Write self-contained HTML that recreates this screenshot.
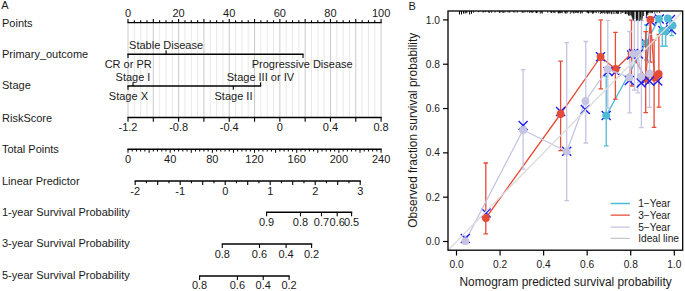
<!DOCTYPE html>
<html><head><meta charset="utf-8"><style>
html,body{margin:0;padding:0;background:#fff;}
body{width:685px;height:291px;overflow:hidden;font-family:"Liberation Sans", sans-serif;}
svg{display:block;}
</style></head><body>
<svg width="685" height="291" viewBox="0 0 685 291" font-family='"Liberation Sans", sans-serif' fill="#1a1a1a"><text x="1.2" y="9.2" font-size="11">A</text>
<text x="2" y="27.1" font-size="11">Points</text>
<text x="2" y="57.5" font-size="11">Primary_outcome</text>
<text x="2" y="88.8" font-size="11">Stage</text>
<text x="2" y="121.6" font-size="11">RiskScore</text>
<text x="2" y="153.2" font-size="11">Total Points</text>
<text x="2" y="184.8" font-size="11">Linear Predictor</text>
<text x="2" y="215.5" font-size="11">1-year Survival Probability</text>
<text x="2" y="247.1" font-size="11">3-year Survival Probability</text>
<text x="2" y="278.6" font-size="11">5-year Survival Probability</text>
<line x1="128.00" y1="22.8" x2="128.00" y2="117.5" stroke="#c4c4c4" stroke-width="0.9"/><line x1="134.33" y1="22.8" x2="134.33" y2="117.5" stroke="#e6e6e6" stroke-width="0.9"/><line x1="140.66" y1="22.8" x2="140.66" y2="117.5" stroke="#e6e6e6" stroke-width="0.9"/><line x1="146.98" y1="22.8" x2="146.98" y2="117.5" stroke="#e6e6e6" stroke-width="0.9"/><line x1="153.31" y1="22.8" x2="153.31" y2="117.5" stroke="#c4c4c4" stroke-width="0.9"/><line x1="159.64" y1="22.8" x2="159.64" y2="117.5" stroke="#e6e6e6" stroke-width="0.9"/><line x1="165.97" y1="22.8" x2="165.97" y2="117.5" stroke="#e6e6e6" stroke-width="0.9"/><line x1="172.29" y1="22.8" x2="172.29" y2="117.5" stroke="#e6e6e6" stroke-width="0.9"/><line x1="178.62" y1="22.8" x2="178.62" y2="117.5" stroke="#c4c4c4" stroke-width="0.9"/><line x1="184.95" y1="22.8" x2="184.95" y2="117.5" stroke="#e6e6e6" stroke-width="0.9"/><line x1="191.28" y1="22.8" x2="191.28" y2="117.5" stroke="#e6e6e6" stroke-width="0.9"/><line x1="197.60" y1="22.8" x2="197.60" y2="117.5" stroke="#e6e6e6" stroke-width="0.9"/><line x1="203.93" y1="22.8" x2="203.93" y2="117.5" stroke="#c4c4c4" stroke-width="0.9"/><line x1="210.26" y1="22.8" x2="210.26" y2="117.5" stroke="#e6e6e6" stroke-width="0.9"/><line x1="216.59" y1="22.8" x2="216.59" y2="117.5" stroke="#e6e6e6" stroke-width="0.9"/><line x1="222.91" y1="22.8" x2="222.91" y2="117.5" stroke="#e6e6e6" stroke-width="0.9"/><line x1="229.24" y1="22.8" x2="229.24" y2="117.5" stroke="#c4c4c4" stroke-width="0.9"/><line x1="235.57" y1="22.8" x2="235.57" y2="117.5" stroke="#e6e6e6" stroke-width="0.9"/><line x1="241.90" y1="22.8" x2="241.90" y2="117.5" stroke="#e6e6e6" stroke-width="0.9"/><line x1="248.22" y1="22.8" x2="248.22" y2="117.5" stroke="#e6e6e6" stroke-width="0.9"/><line x1="254.55" y1="22.8" x2="254.55" y2="117.5" stroke="#c4c4c4" stroke-width="0.9"/><line x1="260.88" y1="22.8" x2="260.88" y2="117.5" stroke="#e6e6e6" stroke-width="0.9"/><line x1="267.21" y1="22.8" x2="267.21" y2="117.5" stroke="#e6e6e6" stroke-width="0.9"/><line x1="273.53" y1="22.8" x2="273.53" y2="117.5" stroke="#e6e6e6" stroke-width="0.9"/><line x1="279.86" y1="22.8" x2="279.86" y2="117.5" stroke="#c4c4c4" stroke-width="0.9"/><line x1="286.19" y1="22.8" x2="286.19" y2="117.5" stroke="#e6e6e6" stroke-width="0.9"/><line x1="292.51" y1="22.8" x2="292.51" y2="117.5" stroke="#e6e6e6" stroke-width="0.9"/><line x1="298.84" y1="22.8" x2="298.84" y2="117.5" stroke="#e6e6e6" stroke-width="0.9"/><line x1="305.17" y1="22.8" x2="305.17" y2="117.5" stroke="#c4c4c4" stroke-width="0.9"/><line x1="311.50" y1="22.8" x2="311.50" y2="117.5" stroke="#e6e6e6" stroke-width="0.9"/><line x1="317.83" y1="22.8" x2="317.83" y2="117.5" stroke="#e6e6e6" stroke-width="0.9"/><line x1="324.15" y1="22.8" x2="324.15" y2="117.5" stroke="#e6e6e6" stroke-width="0.9"/><line x1="330.48" y1="22.8" x2="330.48" y2="117.5" stroke="#c4c4c4" stroke-width="0.9"/><line x1="336.81" y1="22.8" x2="336.81" y2="117.5" stroke="#e6e6e6" stroke-width="0.9"/><line x1="343.13" y1="22.8" x2="343.13" y2="117.5" stroke="#e6e6e6" stroke-width="0.9"/><line x1="349.46" y1="22.8" x2="349.46" y2="117.5" stroke="#e6e6e6" stroke-width="0.9"/><line x1="355.79" y1="22.8" x2="355.79" y2="117.5" stroke="#c4c4c4" stroke-width="0.9"/><line x1="362.12" y1="22.8" x2="362.12" y2="117.5" stroke="#e6e6e6" stroke-width="0.9"/><line x1="368.45" y1="22.8" x2="368.45" y2="117.5" stroke="#e6e6e6" stroke-width="0.9"/><line x1="374.77" y1="22.8" x2="374.77" y2="117.5" stroke="#e6e6e6" stroke-width="0.9"/><line x1="381.10" y1="22.8" x2="381.10" y2="117.5" stroke="#c4c4c4" stroke-width="0.9"/>
<line x1="127.40" y1="22.6" x2="381.70" y2="22.6" stroke="#000" stroke-width="1.45"/>
<line x1="128.00" y1="22.6" x2="128.00" y2="18.9" stroke="#000" stroke-width="1.1"/>
<line x1="134.33" y1="22.6" x2="134.33" y2="20.3" stroke="#000" stroke-width="1.1"/>
<line x1="140.66" y1="22.6" x2="140.66" y2="20.3" stroke="#000" stroke-width="1.1"/>
<line x1="146.98" y1="22.6" x2="146.98" y2="20.3" stroke="#000" stroke-width="1.1"/>
<line x1="153.31" y1="22.6" x2="153.31" y2="18.9" stroke="#000" stroke-width="1.1"/>
<line x1="159.64" y1="22.6" x2="159.64" y2="20.3" stroke="#000" stroke-width="1.1"/>
<line x1="165.97" y1="22.6" x2="165.97" y2="20.3" stroke="#000" stroke-width="1.1"/>
<line x1="172.29" y1="22.6" x2="172.29" y2="20.3" stroke="#000" stroke-width="1.1"/>
<line x1="178.62" y1="22.6" x2="178.62" y2="18.9" stroke="#000" stroke-width="1.1"/>
<line x1="184.95" y1="22.6" x2="184.95" y2="20.3" stroke="#000" stroke-width="1.1"/>
<line x1="191.28" y1="22.6" x2="191.28" y2="20.3" stroke="#000" stroke-width="1.1"/>
<line x1="197.60" y1="22.6" x2="197.60" y2="20.3" stroke="#000" stroke-width="1.1"/>
<line x1="203.93" y1="22.6" x2="203.93" y2="18.9" stroke="#000" stroke-width="1.1"/>
<line x1="210.26" y1="22.6" x2="210.26" y2="20.3" stroke="#000" stroke-width="1.1"/>
<line x1="216.59" y1="22.6" x2="216.59" y2="20.3" stroke="#000" stroke-width="1.1"/>
<line x1="222.91" y1="22.6" x2="222.91" y2="20.3" stroke="#000" stroke-width="1.1"/>
<line x1="229.24" y1="22.6" x2="229.24" y2="18.9" stroke="#000" stroke-width="1.1"/>
<line x1="235.57" y1="22.6" x2="235.57" y2="20.3" stroke="#000" stroke-width="1.1"/>
<line x1="241.90" y1="22.6" x2="241.90" y2="20.3" stroke="#000" stroke-width="1.1"/>
<line x1="248.22" y1="22.6" x2="248.22" y2="20.3" stroke="#000" stroke-width="1.1"/>
<line x1="254.55" y1="22.6" x2="254.55" y2="18.9" stroke="#000" stroke-width="1.1"/>
<line x1="260.88" y1="22.6" x2="260.88" y2="20.3" stroke="#000" stroke-width="1.1"/>
<line x1="267.21" y1="22.6" x2="267.21" y2="20.3" stroke="#000" stroke-width="1.1"/>
<line x1="273.53" y1="22.6" x2="273.53" y2="20.3" stroke="#000" stroke-width="1.1"/>
<line x1="279.86" y1="22.6" x2="279.86" y2="18.9" stroke="#000" stroke-width="1.1"/>
<line x1="286.19" y1="22.6" x2="286.19" y2="20.3" stroke="#000" stroke-width="1.1"/>
<line x1="292.51" y1="22.6" x2="292.51" y2="20.3" stroke="#000" stroke-width="1.1"/>
<line x1="298.84" y1="22.6" x2="298.84" y2="20.3" stroke="#000" stroke-width="1.1"/>
<line x1="305.17" y1="22.6" x2="305.17" y2="18.9" stroke="#000" stroke-width="1.1"/>
<line x1="311.50" y1="22.6" x2="311.50" y2="20.3" stroke="#000" stroke-width="1.1"/>
<line x1="317.83" y1="22.6" x2="317.83" y2="20.3" stroke="#000" stroke-width="1.1"/>
<line x1="324.15" y1="22.6" x2="324.15" y2="20.3" stroke="#000" stroke-width="1.1"/>
<line x1="330.48" y1="22.6" x2="330.48" y2="18.9" stroke="#000" stroke-width="1.1"/>
<line x1="336.81" y1="22.6" x2="336.81" y2="20.3" stroke="#000" stroke-width="1.1"/>
<line x1="343.13" y1="22.6" x2="343.13" y2="20.3" stroke="#000" stroke-width="1.1"/>
<line x1="349.46" y1="22.6" x2="349.46" y2="20.3" stroke="#000" stroke-width="1.1"/>
<line x1="355.79" y1="22.6" x2="355.79" y2="18.9" stroke="#000" stroke-width="1.1"/>
<line x1="362.12" y1="22.6" x2="362.12" y2="20.3" stroke="#000" stroke-width="1.1"/>
<line x1="368.45" y1="22.6" x2="368.45" y2="20.3" stroke="#000" stroke-width="1.1"/>
<line x1="374.77" y1="22.6" x2="374.77" y2="20.3" stroke="#000" stroke-width="1.1"/>
<line x1="381.10" y1="22.6" x2="381.10" y2="18.9" stroke="#000" stroke-width="1.1"/>
<text x="128.00" y="16.8" font-size="11" text-anchor="middle">0</text>
<text x="178.62" y="16.8" font-size="11" text-anchor="middle">20</text>
<text x="229.24" y="16.8" font-size="11" text-anchor="middle">40</text>
<text x="279.86" y="16.8" font-size="11" text-anchor="middle">60</text>
<text x="330.48" y="16.8" font-size="11" text-anchor="middle">80</text>
<text x="381.10" y="16.8" font-size="11" text-anchor="middle">100</text>
<line x1="127.4" y1="54.2" x2="303.6" y2="54.2" stroke="#000" stroke-width="1.45"/>
<line x1="128" y1="54.2" x2="128" y2="58.0" stroke="#000" stroke-width="1.1"/>
<line x1="166.1" y1="54.2" x2="166.1" y2="50.400000000000006" stroke="#000" stroke-width="1.1"/>
<line x1="303" y1="54.2" x2="303" y2="58.0" stroke="#000" stroke-width="1.1"/>
<text x="166.1" y="48.9" font-size="11" text-anchor="middle">Stable Disease</text>
<text x="128.2" y="68.0" font-size="11" text-anchor="middle">CR or PR</text>
<text x="302.2" y="67.6" font-size="11" text-anchor="middle">Progressive Disease</text>
<line x1="127.4" y1="86.0" x2="261.2" y2="86.0" stroke="#000" stroke-width="1.45"/>
<line x1="128" y1="86.0" x2="128" y2="89.8" stroke="#000" stroke-width="1.1"/>
<line x1="133" y1="86.0" x2="133" y2="82.2" stroke="#000" stroke-width="1.1"/>
<line x1="233.3" y1="86.0" x2="233.3" y2="89.8" stroke="#000" stroke-width="1.1"/>
<line x1="260.6" y1="86.0" x2="260.6" y2="82.2" stroke="#000" stroke-width="1.1"/>
<text x="133" y="80.5" font-size="11" text-anchor="middle">Stage I</text>
<text x="260.4" y="80.5" font-size="11" text-anchor="middle">Stage III or IV</text>
<text x="128.4" y="100.2" font-size="11" text-anchor="middle">Stage X</text>
<text x="233.5" y="99.8" font-size="11" text-anchor="middle">Stage II</text>
<line x1="127.4" y1="117.5" x2="381.7" y2="117.5" stroke="#000" stroke-width="1.45"/>
<line x1="128.00" y1="117.5" x2="128.00" y2="121.7" stroke="#000" stroke-width="1.1"/>
<line x1="153.31" y1="117.5" x2="153.31" y2="121.7" stroke="#000" stroke-width="1.1"/>
<line x1="178.62" y1="117.5" x2="178.62" y2="121.7" stroke="#000" stroke-width="1.1"/>
<line x1="203.93" y1="117.5" x2="203.93" y2="121.7" stroke="#000" stroke-width="1.1"/>
<line x1="229.24" y1="117.5" x2="229.24" y2="121.7" stroke="#000" stroke-width="1.1"/>
<line x1="254.55" y1="117.5" x2="254.55" y2="121.7" stroke="#000" stroke-width="1.1"/>
<line x1="279.86" y1="117.5" x2="279.86" y2="121.7" stroke="#000" stroke-width="1.1"/>
<line x1="305.17" y1="117.5" x2="305.17" y2="121.7" stroke="#000" stroke-width="1.1"/>
<line x1="330.48" y1="117.5" x2="330.48" y2="121.7" stroke="#000" stroke-width="1.1"/>
<line x1="355.79" y1="117.5" x2="355.79" y2="121.7" stroke="#000" stroke-width="1.1"/>
<line x1="381.10" y1="117.5" x2="381.10" y2="121.7" stroke="#000" stroke-width="1.1"/>
<text x="128.00" y="130.8" font-size="11" text-anchor="middle">-1.2</text>
<text x="178.62" y="130.8" font-size="11" text-anchor="middle">-0.8</text>
<text x="229.24" y="130.8" font-size="11" text-anchor="middle">-0.4</text>
<text x="279.86" y="130.8" font-size="11" text-anchor="middle">0</text>
<text x="330.48" y="130.8" font-size="11" text-anchor="middle">0.4</text>
<text x="381.10" y="130.8" font-size="11" text-anchor="middle">0.8</text>
<line x1="127.4" y1="149.2" x2="381.7" y2="149.2" stroke="#000" stroke-width="1.45"/>
<line x1="128.00" y1="149.2" x2="128.00" y2="152.79999999999998" stroke="#000" stroke-width="1.0"/>
<line x1="132.22" y1="149.2" x2="132.22" y2="151.5" stroke="#000" stroke-width="1.0"/>
<line x1="136.44" y1="149.2" x2="136.44" y2="151.5" stroke="#000" stroke-width="1.0"/>
<line x1="140.66" y1="149.2" x2="140.66" y2="151.5" stroke="#000" stroke-width="1.0"/>
<line x1="144.87" y1="149.2" x2="144.87" y2="151.5" stroke="#000" stroke-width="1.0"/>
<line x1="149.09" y1="149.2" x2="149.09" y2="152.79999999999998" stroke="#000" stroke-width="1.0"/>
<line x1="153.31" y1="149.2" x2="153.31" y2="151.5" stroke="#000" stroke-width="1.0"/>
<line x1="157.53" y1="149.2" x2="157.53" y2="151.5" stroke="#000" stroke-width="1.0"/>
<line x1="161.75" y1="149.2" x2="161.75" y2="151.5" stroke="#000" stroke-width="1.0"/>
<line x1="165.97" y1="149.2" x2="165.97" y2="151.5" stroke="#000" stroke-width="1.0"/>
<line x1="170.18" y1="149.2" x2="170.18" y2="152.79999999999998" stroke="#000" stroke-width="1.0"/>
<line x1="174.40" y1="149.2" x2="174.40" y2="151.5" stroke="#000" stroke-width="1.0"/>
<line x1="178.62" y1="149.2" x2="178.62" y2="151.5" stroke="#000" stroke-width="1.0"/>
<line x1="182.84" y1="149.2" x2="182.84" y2="151.5" stroke="#000" stroke-width="1.0"/>
<line x1="187.06" y1="149.2" x2="187.06" y2="151.5" stroke="#000" stroke-width="1.0"/>
<line x1="191.28" y1="149.2" x2="191.28" y2="152.79999999999998" stroke="#000" stroke-width="1.0"/>
<line x1="195.49" y1="149.2" x2="195.49" y2="151.5" stroke="#000" stroke-width="1.0"/>
<line x1="199.71" y1="149.2" x2="199.71" y2="151.5" stroke="#000" stroke-width="1.0"/>
<line x1="203.93" y1="149.2" x2="203.93" y2="151.5" stroke="#000" stroke-width="1.0"/>
<line x1="208.15" y1="149.2" x2="208.15" y2="151.5" stroke="#000" stroke-width="1.0"/>
<line x1="212.37" y1="149.2" x2="212.37" y2="152.79999999999998" stroke="#000" stroke-width="1.0"/>
<line x1="216.58" y1="149.2" x2="216.58" y2="151.5" stroke="#000" stroke-width="1.0"/>
<line x1="220.80" y1="149.2" x2="220.80" y2="151.5" stroke="#000" stroke-width="1.0"/>
<line x1="225.02" y1="149.2" x2="225.02" y2="151.5" stroke="#000" stroke-width="1.0"/>
<line x1="229.24" y1="149.2" x2="229.24" y2="151.5" stroke="#000" stroke-width="1.0"/>
<line x1="233.46" y1="149.2" x2="233.46" y2="152.79999999999998" stroke="#000" stroke-width="1.0"/>
<line x1="237.68" y1="149.2" x2="237.68" y2="151.5" stroke="#000" stroke-width="1.0"/>
<line x1="241.89" y1="149.2" x2="241.89" y2="151.5" stroke="#000" stroke-width="1.0"/>
<line x1="246.11" y1="149.2" x2="246.11" y2="151.5" stroke="#000" stroke-width="1.0"/>
<line x1="250.33" y1="149.2" x2="250.33" y2="151.5" stroke="#000" stroke-width="1.0"/>
<line x1="254.55" y1="149.2" x2="254.55" y2="152.79999999999998" stroke="#000" stroke-width="1.0"/>
<line x1="258.77" y1="149.2" x2="258.77" y2="151.5" stroke="#000" stroke-width="1.0"/>
<line x1="262.99" y1="149.2" x2="262.99" y2="151.5" stroke="#000" stroke-width="1.0"/>
<line x1="267.20" y1="149.2" x2="267.20" y2="151.5" stroke="#000" stroke-width="1.0"/>
<line x1="271.42" y1="149.2" x2="271.42" y2="151.5" stroke="#000" stroke-width="1.0"/>
<line x1="275.64" y1="149.2" x2="275.64" y2="152.79999999999998" stroke="#000" stroke-width="1.0"/>
<line x1="279.86" y1="149.2" x2="279.86" y2="151.5" stroke="#000" stroke-width="1.0"/>
<line x1="284.08" y1="149.2" x2="284.08" y2="151.5" stroke="#000" stroke-width="1.0"/>
<line x1="288.30" y1="149.2" x2="288.30" y2="151.5" stroke="#000" stroke-width="1.0"/>
<line x1="292.51" y1="149.2" x2="292.51" y2="151.5" stroke="#000" stroke-width="1.0"/>
<line x1="296.73" y1="149.2" x2="296.73" y2="152.79999999999998" stroke="#000" stroke-width="1.0"/>
<line x1="300.95" y1="149.2" x2="300.95" y2="151.5" stroke="#000" stroke-width="1.0"/>
<line x1="305.17" y1="149.2" x2="305.17" y2="151.5" stroke="#000" stroke-width="1.0"/>
<line x1="309.39" y1="149.2" x2="309.39" y2="151.5" stroke="#000" stroke-width="1.0"/>
<line x1="313.61" y1="149.2" x2="313.61" y2="151.5" stroke="#000" stroke-width="1.0"/>
<line x1="317.82" y1="149.2" x2="317.82" y2="152.79999999999998" stroke="#000" stroke-width="1.0"/>
<line x1="322.04" y1="149.2" x2="322.04" y2="151.5" stroke="#000" stroke-width="1.0"/>
<line x1="326.26" y1="149.2" x2="326.26" y2="151.5" stroke="#000" stroke-width="1.0"/>
<line x1="330.48" y1="149.2" x2="330.48" y2="151.5" stroke="#000" stroke-width="1.0"/>
<line x1="334.70" y1="149.2" x2="334.70" y2="151.5" stroke="#000" stroke-width="1.0"/>
<line x1="338.92" y1="149.2" x2="338.92" y2="152.79999999999998" stroke="#000" stroke-width="1.0"/>
<line x1="343.13" y1="149.2" x2="343.13" y2="151.5" stroke="#000" stroke-width="1.0"/>
<line x1="347.35" y1="149.2" x2="347.35" y2="151.5" stroke="#000" stroke-width="1.0"/>
<line x1="351.57" y1="149.2" x2="351.57" y2="151.5" stroke="#000" stroke-width="1.0"/>
<line x1="355.79" y1="149.2" x2="355.79" y2="151.5" stroke="#000" stroke-width="1.0"/>
<line x1="360.01" y1="149.2" x2="360.01" y2="152.79999999999998" stroke="#000" stroke-width="1.0"/>
<line x1="364.23" y1="149.2" x2="364.23" y2="151.5" stroke="#000" stroke-width="1.0"/>
<line x1="368.44" y1="149.2" x2="368.44" y2="151.5" stroke="#000" stroke-width="1.0"/>
<line x1="372.66" y1="149.2" x2="372.66" y2="151.5" stroke="#000" stroke-width="1.0"/>
<line x1="376.88" y1="149.2" x2="376.88" y2="151.5" stroke="#000" stroke-width="1.0"/>
<line x1="381.10" y1="149.2" x2="381.10" y2="152.79999999999998" stroke="#000" stroke-width="1.0"/>
<text x="128.00" y="162.8" font-size="11" text-anchor="middle">0</text>
<text x="170.18" y="162.8" font-size="11" text-anchor="middle">40</text>
<text x="212.37" y="162.8" font-size="11" text-anchor="middle">80</text>
<text x="254.55" y="162.8" font-size="11" text-anchor="middle">120</text>
<text x="296.73" y="162.8" font-size="11" text-anchor="middle">160</text>
<text x="338.92" y="162.8" font-size="11" text-anchor="middle">200</text>
<text x="381.10" y="162.8" font-size="11" text-anchor="middle">240</text>
<line x1="134.60" y1="181.0" x2="360.80" y2="181.0" stroke="#000" stroke-width="1.45"/>
<line x1="135.20" y1="181.0" x2="135.20" y2="184.9" stroke="#000" stroke-width="1.1"/>
<line x1="146.45" y1="181.0" x2="146.45" y2="183.3" stroke="#000" stroke-width="1.1"/>
<line x1="157.70" y1="181.0" x2="157.70" y2="184.9" stroke="#000" stroke-width="1.1"/>
<line x1="168.95" y1="181.0" x2="168.95" y2="183.3" stroke="#000" stroke-width="1.1"/>
<line x1="180.20" y1="181.0" x2="180.20" y2="184.9" stroke="#000" stroke-width="1.1"/>
<line x1="191.45" y1="181.0" x2="191.45" y2="183.3" stroke="#000" stroke-width="1.1"/>
<line x1="202.70" y1="181.0" x2="202.70" y2="184.9" stroke="#000" stroke-width="1.1"/>
<line x1="213.95" y1="181.0" x2="213.95" y2="183.3" stroke="#000" stroke-width="1.1"/>
<line x1="225.20" y1="181.0" x2="225.20" y2="184.9" stroke="#000" stroke-width="1.1"/>
<line x1="236.45" y1="181.0" x2="236.45" y2="183.3" stroke="#000" stroke-width="1.1"/>
<line x1="247.70" y1="181.0" x2="247.70" y2="184.9" stroke="#000" stroke-width="1.1"/>
<line x1="258.95" y1="181.0" x2="258.95" y2="183.3" stroke="#000" stroke-width="1.1"/>
<line x1="270.20" y1="181.0" x2="270.20" y2="184.9" stroke="#000" stroke-width="1.1"/>
<line x1="281.45" y1="181.0" x2="281.45" y2="183.3" stroke="#000" stroke-width="1.1"/>
<line x1="292.70" y1="181.0" x2="292.70" y2="184.9" stroke="#000" stroke-width="1.1"/>
<line x1="303.95" y1="181.0" x2="303.95" y2="183.3" stroke="#000" stroke-width="1.1"/>
<line x1="315.20" y1="181.0" x2="315.20" y2="184.9" stroke="#000" stroke-width="1.1"/>
<line x1="326.45" y1="181.0" x2="326.45" y2="183.3" stroke="#000" stroke-width="1.1"/>
<line x1="337.70" y1="181.0" x2="337.70" y2="184.9" stroke="#000" stroke-width="1.1"/>
<line x1="348.95" y1="181.0" x2="348.95" y2="183.3" stroke="#000" stroke-width="1.1"/>
<line x1="360.20" y1="181.0" x2="360.20" y2="184.9" stroke="#000" stroke-width="1.1"/>
<text x="135.20" y="195.0" font-size="11" text-anchor="middle">-2</text>
<text x="180.20" y="195.0" font-size="11" text-anchor="middle">-1</text>
<text x="225.20" y="195.0" font-size="11" text-anchor="middle">0</text>
<text x="270.20" y="195.0" font-size="11" text-anchor="middle">1</text>
<text x="315.20" y="195.0" font-size="11" text-anchor="middle">2</text>
<text x="360.20" y="195.0" font-size="11" text-anchor="middle">3</text>
<line x1="266.0" y1="212.3" x2="352.20000000000005" y2="212.3" stroke="#000" stroke-width="1.45"/>
<line x1="266.6" y1="212.3" x2="266.6" y2="216.3" stroke="#000" stroke-width="1.1"/>
<text x="266.6" y="225.9" font-size="11" text-anchor="middle">0.9</text>
<line x1="300.5" y1="212.3" x2="300.5" y2="216.3" stroke="#000" stroke-width="1.1"/>
<text x="300.5" y="225.9" font-size="11" text-anchor="middle">0.8</text>
<line x1="321.5" y1="212.3" x2="321.5" y2="216.3" stroke="#000" stroke-width="1.1"/>
<text x="321.5" y="225.9" font-size="11" text-anchor="middle">0.7</text>
<line x1="337.2" y1="212.3" x2="337.2" y2="216.3" stroke="#000" stroke-width="1.1"/>
<text x="337.2" y="225.9" font-size="11" text-anchor="middle">0.6</text>
<line x1="351.6" y1="212.3" x2="351.6" y2="216.3" stroke="#000" stroke-width="1.1"/>
<text x="351.6" y="225.9" font-size="11" text-anchor="middle">0.5</text>
<line x1="221.70000000000002" y1="244.0" x2="312.20000000000005" y2="244.0" stroke="#000" stroke-width="1.45"/>
<line x1="222.3" y1="244.0" x2="222.3" y2="248.0" stroke="#000" stroke-width="1.1"/>
<text x="222.3" y="257.6" font-size="11" text-anchor="middle">0.8</text>
<line x1="259.5" y1="244.0" x2="259.5" y2="248.0" stroke="#000" stroke-width="1.1"/>
<text x="259.5" y="257.6" font-size="11" text-anchor="middle">0.6</text>
<line x1="286.1" y1="244.0" x2="286.1" y2="248.0" stroke="#000" stroke-width="1.1"/>
<text x="286.1" y="257.6" font-size="11" text-anchor="middle">0.4</text>
<line x1="311.6" y1="244.0" x2="311.6" y2="248.0" stroke="#000" stroke-width="1.1"/>
<text x="311.6" y="257.6" font-size="11" text-anchor="middle">0.2</text>
<line x1="199.0" y1="275.9" x2="289.70000000000005" y2="275.9" stroke="#000" stroke-width="1.45"/>
<line x1="199.6" y1="275.9" x2="199.6" y2="279.9" stroke="#000" stroke-width="1.1"/>
<text x="199.6" y="289.4" font-size="11" text-anchor="middle">0.8</text>
<line x1="237.4" y1="275.9" x2="237.4" y2="279.9" stroke="#000" stroke-width="1.1"/>
<text x="237.4" y="289.4" font-size="11" text-anchor="middle">0.6</text>
<line x1="263.2" y1="275.9" x2="263.2" y2="279.9" stroke="#000" stroke-width="1.1"/>
<text x="263.2" y="289.4" font-size="11" text-anchor="middle">0.4</text>
<line x1="289.1" y1="275.9" x2="289.1" y2="279.9" stroke="#000" stroke-width="1.1"/>
<text x="289.1" y="289.4" font-size="11" text-anchor="middle">0.2</text>
<text x="408.4" y="10.1" font-size="11">B</text>
<line x1="456.50" y1="250.2" x2="456.50" y2="255.5" stroke="#000" stroke-width="1.2"/>
<text x="456.50" y="268.1" font-size="10.2" text-anchor="middle">0.0</text>
<line x1="448.0" y1="241.50" x2="443.0" y2="241.50" stroke="#000" stroke-width="1.2"/>
<text x="439.9" y="245.10" font-size="10.2" text-anchor="end">0.0</text>
<line x1="500.06" y1="250.2" x2="500.06" y2="255.5" stroke="#000" stroke-width="1.2"/>
<text x="500.06" y="268.1" font-size="10.2" text-anchor="middle">0.2</text>
<line x1="448.0" y1="197.18" x2="443.0" y2="197.18" stroke="#000" stroke-width="1.2"/>
<text x="439.9" y="200.78" font-size="10.2" text-anchor="end">0.2</text>
<line x1="543.62" y1="250.2" x2="543.62" y2="255.5" stroke="#000" stroke-width="1.2"/>
<text x="543.62" y="268.1" font-size="10.2" text-anchor="middle">0.4</text>
<line x1="448.0" y1="152.86" x2="443.0" y2="152.86" stroke="#000" stroke-width="1.2"/>
<text x="439.9" y="156.46" font-size="10.2" text-anchor="end">0.4</text>
<line x1="587.18" y1="250.2" x2="587.18" y2="255.5" stroke="#000" stroke-width="1.2"/>
<text x="587.18" y="268.1" font-size="10.2" text-anchor="middle">0.6</text>
<line x1="448.0" y1="108.54" x2="443.0" y2="108.54" stroke="#000" stroke-width="1.2"/>
<text x="439.9" y="112.14" font-size="10.2" text-anchor="end">0.6</text>
<line x1="630.74" y1="250.2" x2="630.74" y2="255.5" stroke="#000" stroke-width="1.2"/>
<text x="630.74" y="268.1" font-size="10.2" text-anchor="middle">0.8</text>
<line x1="448.0" y1="64.22" x2="443.0" y2="64.22" stroke="#000" stroke-width="1.2"/>
<text x="439.9" y="67.82" font-size="10.2" text-anchor="end">0.8</text>
<line x1="674.30" y1="250.2" x2="674.30" y2="255.5" stroke="#000" stroke-width="1.2"/>
<text x="674.30" y="268.1" font-size="10.2" text-anchor="middle">1.0</text>
<line x1="448.0" y1="19.90" x2="443.0" y2="19.90" stroke="#000" stroke-width="1.2"/>
<text x="439.9" y="23.50" font-size="10.2" text-anchor="end">1.0</text>
<text x="565.6" y="286.4" font-size="11.9" text-anchor="middle">Nomogram predicted survival probability</text>
<text transform="translate(416.6,130.3) rotate(-90)" font-size="11.9" text-anchor="middle">Observed fraction survival probability</text>
<defs><clipPath id="pc"><rect x="448.0" y="11.0" width="234.70000000000005" height="239.2"/></clipPath></defs>
<g clip-path="url(#pc)">
<line x1="606.2" y1="76.0" x2="606.2" y2="145.8" stroke="#4dbbd5" stroke-width="1.3"/><line x1="603.9000000000001" y1="76.0" x2="608.5" y2="76.0" stroke="#4dbbd5" stroke-width="1.3"/><line x1="603.9000000000001" y1="145.8" x2="608.5" y2="145.8" stroke="#4dbbd5" stroke-width="1.3"/><line x1="646.3" y1="25" x2="646.3" y2="60" stroke="#4dbbd5" stroke-width="1.3"/><line x1="644.0" y1="25" x2="648.5999999999999" y2="25" stroke="#4dbbd5" stroke-width="1.3"/><line x1="644.0" y1="60" x2="648.5999999999999" y2="60" stroke="#4dbbd5" stroke-width="1.3"/><line x1="662.3" y1="31" x2="662.3" y2="46.2" stroke="#4dbbd5" stroke-width="1.3"/><line x1="660.0" y1="31" x2="664.5999999999999" y2="31" stroke="#4dbbd5" stroke-width="1.3"/><line x1="660.0" y1="46.2" x2="664.5999999999999" y2="46.2" stroke="#4dbbd5" stroke-width="1.3"/><line x1="665.7" y1="31" x2="665.7" y2="46.2" stroke="#4dbbd5" stroke-width="1.3"/><line x1="663.4000000000001" y1="31" x2="668.0" y2="31" stroke="#4dbbd5" stroke-width="1.3"/><line x1="663.4000000000001" y1="46.2" x2="668.0" y2="46.2" stroke="#4dbbd5" stroke-width="1.3"/><line x1="671.8" y1="25.5" x2="671.8" y2="35.7" stroke="#4dbbd5" stroke-width="1.3"/><line x1="669.5" y1="25.5" x2="674.0999999999999" y2="25.5" stroke="#4dbbd5" stroke-width="1.3"/><line x1="669.5" y1="35.7" x2="674.0999999999999" y2="35.7" stroke="#4dbbd5" stroke-width="1.3"/><polyline fill="none" stroke="#4dbbd5" stroke-width="1.3" stroke-linejoin="round" stroke-linecap="round" points="606.2,115.6 645.8,43.3 659.0,18.8 662.3,31.0 665.7,31.0 667.9,18.4 672.5,25.5"/><path d="M601.7,111.1L610.7,120.1M610.7,111.1L601.7,120.1" stroke="#1f1ff0" stroke-width="1.4" fill="none"/><path d="M641.3,38.8L650.3,47.8M650.3,38.8L641.3,47.8" stroke="#1f1ff0" stroke-width="1.4" fill="none"/><path d="M654.8,14.600000000000001L663.8,23.6M663.8,14.600000000000001L654.8,23.6" stroke="#1f1ff0" stroke-width="1.4" fill="none"/><path d="M658.3,26.1L667.3,35.1M667.3,26.1L658.3,35.1" stroke="#1f1ff0" stroke-width="1.4" fill="none"/><path d="M666.0,15.0L675.0,24.0M675.0,15.0L666.0,24.0" stroke="#1f1ff0" stroke-width="1.4" fill="none"/><path d="M667.0,25.3L676.0,34.3M676.0,25.3L667.0,34.3" stroke="#1f1ff0" stroke-width="1.4" fill="none"/><circle cx="606.2" cy="115.6" r="3.9" fill="#4dbbd5"/><circle cx="645.8" cy="43.3" r="3.9" fill="#4dbbd5"/><circle cx="659.0" cy="18.8" r="3.9" fill="#4dbbd5"/><circle cx="662.3" cy="31.0" r="3.9" fill="#4dbbd5"/><circle cx="665.7" cy="31.0" r="3.9" fill="#4dbbd5"/><circle cx="667.9" cy="18.4" r="3.9" fill="#4dbbd5"/><circle cx="672.5" cy="25.5" r="3.9" fill="#4dbbd5"/>
<line x1="485.8" y1="163.0" x2="485.8" y2="233.9" stroke="#e64b35" stroke-width="1.3"/><line x1="483.5" y1="163.0" x2="488.1" y2="163.0" stroke="#e64b35" stroke-width="1.3"/><line x1="483.5" y1="233.9" x2="488.1" y2="233.9" stroke="#e64b35" stroke-width="1.3"/><line x1="560.6" y1="61.2" x2="560.6" y2="150.7" stroke="#e64b35" stroke-width="1.3"/><line x1="558.3000000000001" y1="61.2" x2="562.9" y2="61.2" stroke="#e64b35" stroke-width="1.3"/><line x1="558.3000000000001" y1="150.7" x2="562.9" y2="150.7" stroke="#e64b35" stroke-width="1.3"/><line x1="600.8" y1="19.9" x2="600.8" y2="88.9" stroke="#e64b35" stroke-width="1.3"/><line x1="598.5" y1="19.9" x2="603.0999999999999" y2="19.9" stroke="#e64b35" stroke-width="1.3"/><line x1="598.5" y1="88.9" x2="603.0999999999999" y2="88.9" stroke="#e64b35" stroke-width="1.3"/><line x1="615.4" y1="32.3" x2="615.4" y2="99.2" stroke="#e64b35" stroke-width="1.3"/><line x1="613.1" y1="32.3" x2="617.6999999999999" y2="32.3" stroke="#e64b35" stroke-width="1.3"/><line x1="613.1" y1="99.2" x2="617.6999999999999" y2="99.2" stroke="#e64b35" stroke-width="1.3"/><line x1="631.5" y1="20.1" x2="631.5" y2="86" stroke="#e64b35" stroke-width="1.3"/><line x1="629.2" y1="20.1" x2="633.8" y2="20.1" stroke="#e64b35" stroke-width="1.3"/><line x1="629.2" y1="86" x2="633.8" y2="86" stroke="#e64b35" stroke-width="1.3"/><line x1="645.7" y1="31.6" x2="645.7" y2="112.6" stroke="#e64b35" stroke-width="1.3"/><line x1="643.4000000000001" y1="31.6" x2="648.0" y2="31.6" stroke="#e64b35" stroke-width="1.3"/><line x1="643.4000000000001" y1="112.6" x2="648.0" y2="112.6" stroke="#e64b35" stroke-width="1.3"/><line x1="650.4" y1="19.6" x2="650.4" y2="62" stroke="#e64b35" stroke-width="1.3"/><line x1="648.1" y1="19.6" x2="652.6999999999999" y2="19.6" stroke="#e64b35" stroke-width="1.3"/><line x1="648.1" y1="62" x2="652.6999999999999" y2="62" stroke="#e64b35" stroke-width="1.3"/><line x1="654.1" y1="40.0" x2="654.1" y2="127.4" stroke="#e64b35" stroke-width="1.3"/><line x1="651.8000000000001" y1="40.0" x2="656.4" y2="40.0" stroke="#e64b35" stroke-width="1.3"/><line x1="651.8000000000001" y1="127.4" x2="656.4" y2="127.4" stroke="#e64b35" stroke-width="1.3"/><line x1="658.9" y1="34.6" x2="658.9" y2="107.2" stroke="#e64b35" stroke-width="1.3"/><line x1="656.6" y1="34.6" x2="661.1999999999999" y2="34.6" stroke="#e64b35" stroke-width="1.3"/><line x1="656.6" y1="107.2" x2="661.1999999999999" y2="107.2" stroke="#e64b35" stroke-width="1.3"/><polyline fill="none" stroke="#e64b35" stroke-width="1.3" stroke-linejoin="round" stroke-linecap="round" points="485.9,218.0 560.6,114.0 600.6,57.0 615.6,69.0 631.6,53.5 645.7,78.5 650.4,19.6 654.6,77.5 658.7,73.9"/><path d="M481.6,208.4L490.6,217.4M490.6,208.4L481.6,217.4" stroke="#1f1ff0" stroke-width="1.4" fill="none"/><path d="M556.1,107.0L565.1,116.0M565.1,107.0L556.1,116.0" stroke="#1f1ff0" stroke-width="1.4" fill="none"/><path d="M596.0,52.3L605.0,61.3M605.0,52.3L596.0,61.3" stroke="#1f1ff0" stroke-width="1.4" fill="none"/><path d="M611.3,67.0L620.3,76.0M620.3,67.0L611.3,76.0" stroke="#1f1ff0" stroke-width="1.4" fill="none"/><path d="M627.1,50.5L636.1,59.5M636.1,50.5L627.1,59.5" stroke="#1f1ff0" stroke-width="1.4" fill="none"/><path d="M641.1,75.5L650.1,84.5M650.1,75.5L641.1,84.5" stroke="#1f1ff0" stroke-width="1.4" fill="none"/><path d="M645.9,16.5L654.9,25.5M654.9,16.5L645.9,25.5" stroke="#1f1ff0" stroke-width="1.4" fill="none"/><path d="M653.2,76.6L662.2,85.6M662.2,76.6L653.2,85.6" stroke="#1f1ff0" stroke-width="1.4" fill="none"/><circle cx="485.9" cy="218.0" r="3.9" fill="#e64b35"/><circle cx="560.6" cy="114.0" r="3.9" fill="#e64b35"/><circle cx="600.6" cy="57.0" r="3.9" fill="#e64b35"/><circle cx="615.6" cy="69.0" r="3.9" fill="#e64b35"/><circle cx="631.6" cy="53.5" r="3.9" fill="#e64b35"/><circle cx="645.7" cy="78.5" r="3.9" fill="#e64b35"/><circle cx="650.4" cy="19.6" r="3.9" fill="#e64b35"/><circle cx="654.6" cy="77.5" r="3.9" fill="#e64b35"/><circle cx="658.7" cy="73.9" r="3.9" fill="#e64b35"/>
<line x1="465.5" y1="236" x2="465.5" y2="243" stroke="#c5c4e3" stroke-width="1.3"/><line x1="463.2" y1="236" x2="467.8" y2="236" stroke="#c5c4e3" stroke-width="1.3"/><line x1="463.2" y1="243" x2="467.8" y2="243" stroke="#c5c4e3" stroke-width="1.3"/><line x1="523.1" y1="69.6" x2="523.1" y2="169.2" stroke="#c5c4e3" stroke-width="1.3"/><line x1="520.8000000000001" y1="69.6" x2="525.4" y2="69.6" stroke="#c5c4e3" stroke-width="1.3"/><line x1="520.8000000000001" y1="169.2" x2="525.4" y2="169.2" stroke="#c5c4e3" stroke-width="1.3"/><line x1="566.7" y1="42.7" x2="566.7" y2="200.6" stroke="#c5c4e3" stroke-width="1.3"/><line x1="564.4000000000001" y1="42.7" x2="569.0" y2="42.7" stroke="#c5c4e3" stroke-width="1.3"/><line x1="564.4000000000001" y1="200.6" x2="569.0" y2="200.6" stroke="#c5c4e3" stroke-width="1.3"/><line x1="585.8" y1="41.5" x2="585.8" y2="143.0" stroke="#c5c4e3" stroke-width="1.3"/><line x1="583.5" y1="41.5" x2="588.0999999999999" y2="41.5" stroke="#c5c4e3" stroke-width="1.3"/><line x1="583.5" y1="143.0" x2="588.0999999999999" y2="143.0" stroke="#c5c4e3" stroke-width="1.3"/><line x1="607.8" y1="20.3" x2="607.8" y2="108.0" stroke="#c5c4e3" stroke-width="1.3"/><line x1="605.5" y1="20.3" x2="610.0999999999999" y2="20.3" stroke="#c5c4e3" stroke-width="1.3"/><line x1="605.5" y1="108.0" x2="610.0999999999999" y2="108.0" stroke="#c5c4e3" stroke-width="1.3"/><line x1="629.6" y1="31.5" x2="629.6" y2="112.8" stroke="#c5c4e3" stroke-width="1.3"/><line x1="627.3000000000001" y1="31.5" x2="631.9" y2="31.5" stroke="#c5c4e3" stroke-width="1.3"/><line x1="627.3000000000001" y1="112.8" x2="631.9" y2="112.8" stroke="#c5c4e3" stroke-width="1.3"/><line x1="634.4" y1="20.5" x2="634.4" y2="90" stroke="#c5c4e3" stroke-width="1.3"/><line x1="632.1" y1="20.5" x2="636.6999999999999" y2="20.5" stroke="#c5c4e3" stroke-width="1.3"/><line x1="632.1" y1="90" x2="636.6999999999999" y2="90" stroke="#c5c4e3" stroke-width="1.3"/><line x1="637.9" y1="20.5" x2="637.9" y2="92.9" stroke="#c5c4e3" stroke-width="1.3"/><line x1="635.6" y1="20.5" x2="640.1999999999999" y2="20.5" stroke="#c5c4e3" stroke-width="1.3"/><line x1="635.6" y1="92.9" x2="640.1999999999999" y2="92.9" stroke="#c5c4e3" stroke-width="1.3"/><line x1="641.4" y1="20.5" x2="641.4" y2="127.7" stroke="#c5c4e3" stroke-width="1.3"/><line x1="639.1" y1="20.5" x2="643.6999999999999" y2="20.5" stroke="#c5c4e3" stroke-width="1.3"/><line x1="639.1" y1="127.7" x2="643.6999999999999" y2="127.7" stroke="#c5c4e3" stroke-width="1.3"/><line x1="649.5" y1="34.3" x2="649.5" y2="107.3" stroke="#c5c4e3" stroke-width="1.3"/><line x1="647.2" y1="34.3" x2="651.8" y2="34.3" stroke="#c5c4e3" stroke-width="1.3"/><line x1="647.2" y1="107.3" x2="651.8" y2="107.3" stroke="#c5c4e3" stroke-width="1.3"/><polyline fill="none" stroke="#c5c4e3" stroke-width="1.3" stroke-linejoin="round" stroke-linecap="round" points="465.3,241.2 523.1,130.0 566.7,151.5 585.5,101.0 607.6,69.2 629.3,77.4 633.5,53.8 638.0,54.0 641.2,76.6 649.5,73.4"/><path d="M460.8,234.0L469.8,243.0M469.8,234.0L460.8,243.0" stroke="#1f1ff0" stroke-width="1.4" fill="none"/><path d="M518.6,121.0L527.6,130.0M527.6,121.0L518.6,130.0" stroke="#1f1ff0" stroke-width="1.4" fill="none"/><path d="M562.2,146.8L571.2,155.8M571.2,146.8L562.2,155.8" stroke="#1f1ff0" stroke-width="1.4" fill="none"/><path d="M580.8,105.0L589.8,114.0M589.8,105.0L580.8,114.0" stroke="#1f1ff0" stroke-width="1.4" fill="none"/><path d="M603.5,67.0L612.5,76.0M612.5,67.0L603.5,76.0" stroke="#1f1ff0" stroke-width="1.4" fill="none"/><path d="M624.8,76.0L633.8,85.0M633.8,76.0L624.8,85.0" stroke="#1f1ff0" stroke-width="1.4" fill="none"/><path d="M629.0,49.0L638.0,58.0M638.0,49.0L629.0,58.0" stroke="#1f1ff0" stroke-width="1.4" fill="none"/><path d="M634.0,49.5L643.0,58.5M643.0,49.5L634.0,58.5" stroke="#1f1ff0" stroke-width="1.4" fill="none"/><path d="M636.7,78.6L645.7,87.6M645.7,78.6L636.7,87.6" stroke="#1f1ff0" stroke-width="1.4" fill="none"/><path d="M645.0,76.6L654.0,85.6M654.0,76.6L645.0,85.6" stroke="#1f1ff0" stroke-width="1.4" fill="none"/><circle cx="465.3" cy="241.2" r="3.9" fill="#c5c4e3"/><circle cx="523.1" cy="130.0" r="3.9" fill="#c5c4e3"/><circle cx="566.7" cy="151.5" r="3.9" fill="#c5c4e3"/><circle cx="585.5" cy="101.0" r="3.9" fill="#c5c4e3"/><circle cx="607.6" cy="69.2" r="3.9" fill="#c5c4e3"/><circle cx="629.3" cy="77.4" r="3.9" fill="#c5c4e3"/><circle cx="633.5" cy="53.8" r="3.9" fill="#c5c4e3"/><circle cx="638.0" cy="54.0" r="3.9" fill="#c5c4e3"/><circle cx="641.2" cy="76.6" r="3.9" fill="#c5c4e3"/><circle cx="649.5" cy="73.4" r="3.9" fill="#c5c4e3"/>
<line x1="448.0" y1="250.15" x2="682.7" y2="11.35" stroke="#dcdcdc" stroke-width="1.4"/>
<line x1="459.5" y1="11.0" x2="459.5" y2="14.5" stroke="#000" stroke-width="1"/><line x1="461.5" y1="11.0" x2="461.5" y2="14.4" stroke="#000" stroke-width="1"/><line x1="463.5" y1="11.0" x2="463.5" y2="13.5" stroke="#000" stroke-width="1"/><line x1="465.2" y1="11.0" x2="465.2" y2="13.6" stroke="#000" stroke-width="1"/><line x1="466.8" y1="11.0" x2="466.8" y2="13.2" stroke="#000" stroke-width="1"/><line x1="469.6" y1="11.0" x2="469.6" y2="14.5" stroke="#000" stroke-width="1"/><line x1="471.5" y1="11.0" x2="471.5" y2="13.8" stroke="#000" stroke-width="1"/><line x1="482.99" y1="11.0" x2="482.99" y2="12.64" stroke="#000" stroke-width="0.7"/><line x1="488.54" y1="11.0" x2="488.54" y2="12.68" stroke="#000" stroke-width="0.7"/><line x1="499.28" y1="11.0" x2="499.28" y2="12.25" stroke="#000" stroke-width="0.7"/><line x1="473.55" y1="11.0" x2="473.55" y2="12.87" stroke="#000" stroke-width="0.7"/><line x1="483.89" y1="11.0" x2="483.89" y2="12.39" stroke="#000" stroke-width="0.7"/><line x1="514.82" y1="11.0" x2="514.82" y2="12.58" stroke="#000" stroke-width="0.7"/><line x1="508.13" y1="11.0" x2="508.13" y2="12.58" stroke="#000" stroke-width="0.7"/><line x1="499.84" y1="11.0" x2="499.84" y2="12.32" stroke="#000" stroke-width="0.7"/><line x1="499.66" y1="11.0" x2="499.66" y2="12.89" stroke="#000" stroke-width="0.7"/><line x1="494.97" y1="11.0" x2="494.97" y2="12.79" stroke="#000" stroke-width="0.7"/><line x1="501.20" y1="11.0" x2="501.20" y2="12.25" stroke="#000" stroke-width="0.7"/><line x1="504.85" y1="11.0" x2="504.85" y2="12.67" stroke="#000" stroke-width="0.7"/><line x1="485.65" y1="11.0" x2="485.65" y2="12.22" stroke="#000" stroke-width="0.7"/><line x1="509.35" y1="11.0" x2="509.35" y2="12.58" stroke="#000" stroke-width="0.7"/><line x1="503.19" y1="11.0" x2="503.19" y2="12.90" stroke="#000" stroke-width="0.7"/><line x1="502.99" y1="11.0" x2="502.99" y2="12.94" stroke="#000" stroke-width="0.7"/><line x1="489.59" y1="11.0" x2="489.59" y2="12.84" stroke="#000" stroke-width="0.7"/><line x1="491.67" y1="11.0" x2="491.67" y2="12.95" stroke="#000" stroke-width="0.7"/><line x1="509.91" y1="11.0" x2="509.91" y2="12.28" stroke="#000" stroke-width="0.7"/><line x1="478.71" y1="11.0" x2="478.71" y2="12.37" stroke="#000" stroke-width="0.7"/><line x1="513.55" y1="11.0" x2="513.55" y2="12.55" stroke="#000" stroke-width="0.7"/><line x1="499.32" y1="11.0" x2="499.32" y2="12.44" stroke="#000" stroke-width="0.7"/><line x1="527.68" y1="11.0" x2="527.68" y2="12.61" stroke="#000" stroke-width="0.7"/><line x1="523.77" y1="11.0" x2="523.77" y2="12.77" stroke="#000" stroke-width="0.7"/><line x1="529.61" y1="11.0" x2="529.61" y2="13.02" stroke="#000" stroke-width="0.7"/><line x1="532.05" y1="11.0" x2="532.05" y2="13.04" stroke="#000" stroke-width="0.7"/><line x1="536.41" y1="11.0" x2="536.41" y2="13.09" stroke="#000" stroke-width="0.7"/><line x1="531.78" y1="11.0" x2="531.78" y2="12.43" stroke="#000" stroke-width="0.7"/><line x1="536.52" y1="11.0" x2="536.52" y2="13.07" stroke="#000" stroke-width="0.7"/><line x1="537.62" y1="11.0" x2="537.62" y2="12.76" stroke="#000" stroke-width="0.7"/><line x1="532.85" y1="11.0" x2="532.85" y2="12.47" stroke="#000" stroke-width="0.7"/><line x1="535.79" y1="11.0" x2="535.79" y2="12.76" stroke="#000" stroke-width="0.7"/><line x1="522.12" y1="11.0" x2="522.12" y2="12.35" stroke="#000" stroke-width="0.7"/><line x1="536.35" y1="11.0" x2="536.35" y2="13.09" stroke="#000" stroke-width="0.7"/><line x1="517.21" y1="11.0" x2="517.21" y2="12.94" stroke="#000" stroke-width="0.7"/><line x1="525.26" y1="11.0" x2="525.26" y2="12.42" stroke="#000" stroke-width="0.7"/><line x1="522.35" y1="11.0" x2="522.35" y2="12.92" stroke="#000" stroke-width="0.7"/><line x1="536.82" y1="11.0" x2="536.82" y2="12.34" stroke="#000" stroke-width="0.7"/><line x1="530.36" y1="11.0" x2="530.36" y2="12.34" stroke="#000" stroke-width="0.7"/><line x1="532.96" y1="11.0" x2="532.96" y2="12.56" stroke="#000" stroke-width="0.7"/><line x1="592.85" y1="11.0" x2="592.85" y2="13.77" stroke="#000" stroke-width="0.7"/><line x1="570.33" y1="11.0" x2="570.33" y2="13.80" stroke="#000" stroke-width="0.7"/><line x1="558.58" y1="11.0" x2="558.58" y2="12.60" stroke="#000" stroke-width="0.7"/><line x1="575.99" y1="11.0" x2="575.99" y2="12.54" stroke="#000" stroke-width="0.7"/><line x1="551.84" y1="11.0" x2="551.84" y2="13.03" stroke="#000" stroke-width="0.7"/><line x1="576.63" y1="11.0" x2="576.63" y2="12.70" stroke="#000" stroke-width="0.7"/><line x1="542.55" y1="11.0" x2="542.55" y2="13.63" stroke="#000" stroke-width="0.7"/><line x1="558.83" y1="11.0" x2="558.83" y2="13.75" stroke="#000" stroke-width="0.7"/><line x1="593.80" y1="11.0" x2="593.80" y2="12.99" stroke="#000" stroke-width="0.7"/><line x1="567.62" y1="11.0" x2="567.62" y2="13.18" stroke="#000" stroke-width="0.7"/><line x1="578.63" y1="11.0" x2="578.63" y2="13.27" stroke="#000" stroke-width="0.7"/><line x1="573.56" y1="11.0" x2="573.56" y2="13.31" stroke="#000" stroke-width="0.7"/><line x1="596.44" y1="11.0" x2="596.44" y2="13.16" stroke="#000" stroke-width="0.7"/><line x1="565.87" y1="11.0" x2="565.87" y2="13.44" stroke="#000" stroke-width="0.7"/><line x1="554.26" y1="11.0" x2="554.26" y2="12.89" stroke="#000" stroke-width="0.7"/><line x1="598.67" y1="11.0" x2="598.67" y2="13.18" stroke="#000" stroke-width="0.7"/><line x1="572.91" y1="11.0" x2="572.91" y2="12.51" stroke="#000" stroke-width="0.7"/><line x1="564.91" y1="11.0" x2="564.91" y2="13.25" stroke="#000" stroke-width="0.7"/><line x1="541.20" y1="11.0" x2="541.20" y2="13.30" stroke="#000" stroke-width="0.7"/><line x1="577.93" y1="11.0" x2="577.93" y2="12.58" stroke="#000" stroke-width="0.7"/><line x1="577.64" y1="11.0" x2="577.64" y2="13.11" stroke="#000" stroke-width="0.7"/><line x1="580.76" y1="11.0" x2="580.76" y2="12.96" stroke="#000" stroke-width="0.7"/><line x1="582.42" y1="11.0" x2="582.42" y2="13.46" stroke="#000" stroke-width="0.7"/><line x1="541.33" y1="11.0" x2="541.33" y2="12.58" stroke="#000" stroke-width="0.7"/><line x1="580.56" y1="11.0" x2="580.56" y2="13.75" stroke="#000" stroke-width="0.7"/><line x1="555.07" y1="11.0" x2="555.07" y2="13.09" stroke="#000" stroke-width="0.7"/><line x1="575.56" y1="11.0" x2="575.56" y2="12.92" stroke="#000" stroke-width="0.7"/><line x1="561.84" y1="11.0" x2="561.84" y2="12.91" stroke="#000" stroke-width="0.7"/><line x1="562.15" y1="11.0" x2="562.15" y2="13.27" stroke="#000" stroke-width="0.7"/><line x1="558.02" y1="11.0" x2="558.02" y2="12.99" stroke="#000" stroke-width="0.7"/><line x1="586.34" y1="11.0" x2="586.34" y2="12.53" stroke="#000" stroke-width="0.7"/><line x1="574.16" y1="11.0" x2="574.16" y2="13.46" stroke="#000" stroke-width="0.7"/><line x1="558.60" y1="11.0" x2="558.60" y2="12.79" stroke="#000" stroke-width="0.7"/><line x1="588.23" y1="11.0" x2="588.23" y2="12.81" stroke="#000" stroke-width="0.7"/><line x1="551.24" y1="11.0" x2="551.24" y2="13.07" stroke="#000" stroke-width="0.7"/><line x1="581.88" y1="11.0" x2="581.88" y2="12.63" stroke="#000" stroke-width="0.7"/><line x1="559.32" y1="11.0" x2="559.32" y2="12.93" stroke="#000" stroke-width="0.7"/><line x1="590.01" y1="11.0" x2="590.01" y2="13.07" stroke="#000" stroke-width="0.7"/><line x1="591.33" y1="11.0" x2="591.33" y2="12.72" stroke="#000" stroke-width="0.7"/><line x1="560.20" y1="11.0" x2="560.20" y2="13.35" stroke="#000" stroke-width="0.7"/><line x1="593.09" y1="11.0" x2="593.09" y2="13.09" stroke="#000" stroke-width="0.7"/><line x1="553.50" y1="11.0" x2="553.50" y2="12.66" stroke="#000" stroke-width="0.7"/><line x1="571.78" y1="11.0" x2="571.78" y2="12.75" stroke="#000" stroke-width="0.7"/><line x1="588.41" y1="11.0" x2="588.41" y2="13.59" stroke="#000" stroke-width="0.7"/><line x1="551.02" y1="11.0" x2="551.02" y2="12.86" stroke="#000" stroke-width="0.7"/><line x1="588.43" y1="11.0" x2="588.43" y2="13.33" stroke="#000" stroke-width="0.7"/><line x1="588.38" y1="11.0" x2="588.38" y2="12.95" stroke="#000" stroke-width="0.7"/><line x1="547.78" y1="11.0" x2="547.78" y2="12.88" stroke="#000" stroke-width="0.7"/><line x1="587.63" y1="11.0" x2="587.63" y2="12.85" stroke="#000" stroke-width="0.7"/><line x1="560.78" y1="11.0" x2="560.78" y2="13.04" stroke="#000" stroke-width="0.7"/><line x1="565.19" y1="11.0" x2="565.19" y2="13.03" stroke="#000" stroke-width="0.7"/><line x1="595.24" y1="11.0" x2="595.24" y2="12.70" stroke="#000" stroke-width="0.7"/><line x1="540.28" y1="11.0" x2="540.28" y2="13.73" stroke="#000" stroke-width="0.7"/><line x1="592.80" y1="11.0" x2="592.80" y2="13.78" stroke="#000" stroke-width="0.7"/><line x1="566.06" y1="11.0" x2="566.06" y2="13.74" stroke="#000" stroke-width="0.7"/><line x1="625.97" y1="11.0" x2="625.97" y2="13.16" stroke="#000" stroke-width="0.7"/><line x1="620.87" y1="11.0" x2="620.87" y2="14.14" stroke="#000" stroke-width="0.7"/><line x1="618.56" y1="11.0" x2="618.56" y2="13.63" stroke="#000" stroke-width="0.7"/><line x1="608.09" y1="11.0" x2="608.09" y2="13.35" stroke="#000" stroke-width="0.7"/><line x1="606.37" y1="11.0" x2="606.37" y2="12.91" stroke="#000" stroke-width="0.7"/><line x1="616.48" y1="11.0" x2="616.48" y2="13.26" stroke="#000" stroke-width="0.7"/><line x1="622.69" y1="11.0" x2="622.69" y2="12.87" stroke="#000" stroke-width="0.7"/><line x1="625.30" y1="11.0" x2="625.30" y2="13.91" stroke="#000" stroke-width="0.7"/><line x1="625.87" y1="11.0" x2="625.87" y2="14.23" stroke="#000" stroke-width="0.7"/><line x1="625.19" y1="11.0" x2="625.19" y2="13.72" stroke="#000" stroke-width="0.7"/><line x1="600.37" y1="11.0" x2="600.37" y2="13.99" stroke="#000" stroke-width="0.7"/><line x1="604.81" y1="11.0" x2="604.81" y2="13.28" stroke="#000" stroke-width="0.7"/><line x1="618.56" y1="11.0" x2="618.56" y2="13.64" stroke="#000" stroke-width="0.7"/><line x1="611.59" y1="11.0" x2="611.59" y2="14.30" stroke="#000" stroke-width="0.7"/><line x1="617.14" y1="11.0" x2="617.14" y2="13.35" stroke="#000" stroke-width="0.7"/><line x1="607.07" y1="11.0" x2="607.07" y2="14.18" stroke="#000" stroke-width="0.7"/><line x1="613.36" y1="11.0" x2="613.36" y2="14.05" stroke="#000" stroke-width="0.7"/><line x1="609.85" y1="11.0" x2="609.85" y2="13.12" stroke="#000" stroke-width="0.7"/><line x1="614.97" y1="11.0" x2="614.97" y2="14.11" stroke="#000" stroke-width="0.7"/><line x1="604.80" y1="11.0" x2="604.80" y2="14.07" stroke="#000" stroke-width="0.7"/><line x1="625.81" y1="11.0" x2="625.81" y2="14.09" stroke="#000" stroke-width="0.7"/><line x1="623.06" y1="11.0" x2="623.06" y2="12.81" stroke="#000" stroke-width="0.7"/><line x1="617.60" y1="11.0" x2="617.60" y2="14.18" stroke="#000" stroke-width="0.7"/><line x1="601.40" y1="11.0" x2="601.40" y2="13.23" stroke="#000" stroke-width="0.7"/><line x1="607.52" y1="11.0" x2="607.52" y2="13.64" stroke="#000" stroke-width="0.7"/><line x1="611.84" y1="11.0" x2="611.84" y2="13.56" stroke="#000" stroke-width="0.7"/><line x1="621.74" y1="11.0" x2="621.74" y2="12.80" stroke="#000" stroke-width="0.7"/><line x1="601.54" y1="11.0" x2="601.54" y2="13.00" stroke="#000" stroke-width="0.7"/><line x1="603.49" y1="11.0" x2="603.49" y2="12.91" stroke="#000" stroke-width="0.7"/><line x1="627.29" y1="11.0" x2="627.29" y2="14.17" stroke="#000" stroke-width="0.7"/><line x1="602.41" y1="11.0" x2="602.41" y2="13.60" stroke="#000" stroke-width="0.7"/><line x1="608.85" y1="11.0" x2="608.85" y2="13.30" stroke="#000" stroke-width="0.7"/><line x1="609.84" y1="11.0" x2="609.84" y2="13.84" stroke="#000" stroke-width="0.7"/><line x1="616.43" y1="11.0" x2="616.43" y2="13.38" stroke="#000" stroke-width="0.7"/><line x1="628.76" y1="11.0" x2="628.76" y2="14.99" stroke="#000" stroke-width="0.7"/><line x1="628.50" y1="11.0" x2="628.50" y2="15.67" stroke="#000" stroke-width="0.7"/><line x1="630.86" y1="11.0" x2="630.86" y2="15.14" stroke="#000" stroke-width="0.7"/><line x1="628.32" y1="11.0" x2="628.32" y2="14.54" stroke="#000" stroke-width="0.7"/><line x1="629.49" y1="11.0" x2="629.49" y2="15.81" stroke="#000" stroke-width="0.7"/><line x1="631.13" y1="11.0" x2="631.13" y2="15.14" stroke="#000" stroke-width="0.7"/><line x1="631.20" y1="11.0" x2="631.20" y2="15.87" stroke="#000" stroke-width="0.7"/><line x1="636.75" y1="11.0" x2="636.75" y2="18.68" stroke="#000" stroke-width="0.7"/><line x1="637.46" y1="11.0" x2="637.46" y2="20.16" stroke="#000" stroke-width="0.7"/><line x1="636.63" y1="11.0" x2="636.63" y2="20.12" stroke="#000" stroke-width="0.7"/><line x1="637.07" y1="11.0" x2="637.07" y2="18.10" stroke="#000" stroke-width="0.7"/><line x1="637.89" y1="11.0" x2="637.89" y2="20.13" stroke="#000" stroke-width="0.7"/><line x1="632.79" y1="11.0" x2="632.79" y2="18.91" stroke="#000" stroke-width="0.7"/><line x1="636.68" y1="11.0" x2="636.68" y2="20.96" stroke="#000" stroke-width="0.7"/><line x1="642.30" y1="11.0" x2="642.30" y2="18.68" stroke="#000" stroke-width="0.7"/><line x1="641.88" y1="11.0" x2="641.88" y2="20.56" stroke="#000" stroke-width="0.7"/><line x1="634.88" y1="11.0" x2="634.88" y2="19.09" stroke="#000" stroke-width="0.7"/><line x1="633.35" y1="11.0" x2="633.35" y2="20.66" stroke="#000" stroke-width="0.7"/><line x1="639.29" y1="11.0" x2="639.29" y2="20.99" stroke="#000" stroke-width="0.7"/><line x1="640.72" y1="11.0" x2="640.72" y2="20.00" stroke="#000" stroke-width="0.7"/><line x1="640.07" y1="11.0" x2="640.07" y2="19.54" stroke="#000" stroke-width="0.7"/><line x1="633.13" y1="11.0" x2="633.13" y2="19.64" stroke="#000" stroke-width="0.7"/><line x1="632.05" y1="11.0" x2="632.05" y2="17.65" stroke="#000" stroke-width="0.7"/><line x1="640.52" y1="11.0" x2="640.52" y2="17.20" stroke="#000" stroke-width="0.7"/><line x1="633.01" y1="11.0" x2="633.01" y2="17.45" stroke="#000" stroke-width="0.7"/><line x1="647.40" y1="11.0" x2="647.40" y2="13.63" stroke="#000" stroke-width="0.7"/><line x1="643.12" y1="11.0" x2="643.12" y2="15.95" stroke="#000" stroke-width="0.7"/><line x1="643.61" y1="11.0" x2="643.61" y2="15.95" stroke="#000" stroke-width="0.7"/><line x1="646.37" y1="11.0" x2="646.37" y2="15.93" stroke="#000" stroke-width="0.7"/><line x1="647.76" y1="11.0" x2="647.76" y2="15.03" stroke="#000" stroke-width="0.7"/><line x1="646.99" y1="11.0" x2="646.99" y2="13.13" stroke="#000" stroke-width="0.7"/><line x1="646.84" y1="11.0" x2="646.84" y2="14.79" stroke="#000" stroke-width="0.7"/><line x1="646.58" y1="11.0" x2="646.58" y2="13.37" stroke="#000" stroke-width="0.7"/><line x1="646.74" y1="11.0" x2="646.74" y2="16.27" stroke="#000" stroke-width="0.7"/><line x1="648.73" y1="11.0" x2="648.73" y2="12.99" stroke="#000" stroke-width="0.7"/><line x1="654.77" y1="11.0" x2="654.77" y2="13.74" stroke="#000" stroke-width="0.7"/><line x1="650.91" y1="11.0" x2="650.91" y2="12.77" stroke="#000" stroke-width="0.7"/><line x1="651.00" y1="11.0" x2="651.00" y2="13.42" stroke="#000" stroke-width="0.7"/><line x1="657.04" y1="11.0" x2="657.04" y2="13.09" stroke="#000" stroke-width="0.7"/><line x1="652.41" y1="11.0" x2="652.41" y2="13.09" stroke="#000" stroke-width="0.7"/><line x1="652.20" y1="11.0" x2="652.20" y2="13.13" stroke="#000" stroke-width="0.7"/><line x1="649.00" y1="11.0" x2="649.00" y2="13.25" stroke="#000" stroke-width="0.7"/><line x1="659.68" y1="11.0" x2="659.68" y2="13.12" stroke="#000" stroke-width="0.7"/>
</g>
<rect x="448.0" y="11.0" width="234.70000000000005" height="239.2" fill="none" stroke="#000" stroke-width="1.3"/>
<line x1="611.2" y1="203.5" x2="629.3" y2="203.5" stroke="#4dbbd5" stroke-width="1.4" stroke-linecap="round"/>
<text x="638.2" y="207.4" font-size="10.2">1−Year</text>
<line x1="611.2" y1="215.1" x2="629.3" y2="215.1" stroke="#e64b35" stroke-width="1.4" stroke-linecap="round"/>
<text x="638.2" y="219.0" font-size="10.2">3−Year</text>
<line x1="611.2" y1="227.1" x2="629.3" y2="227.1" stroke="#c5c4e3" stroke-width="1.4" stroke-linecap="round"/>
<text x="638.2" y="231.0" font-size="10.2">5−Year</text>
<line x1="611.2" y1="238.4" x2="629.3" y2="238.4" stroke="#c8c8c8" stroke-width="1.4" stroke-linecap="round"/>
<text x="638.2" y="242.3" font-size="10.2">Ideal line</text></svg>
</body></html>
